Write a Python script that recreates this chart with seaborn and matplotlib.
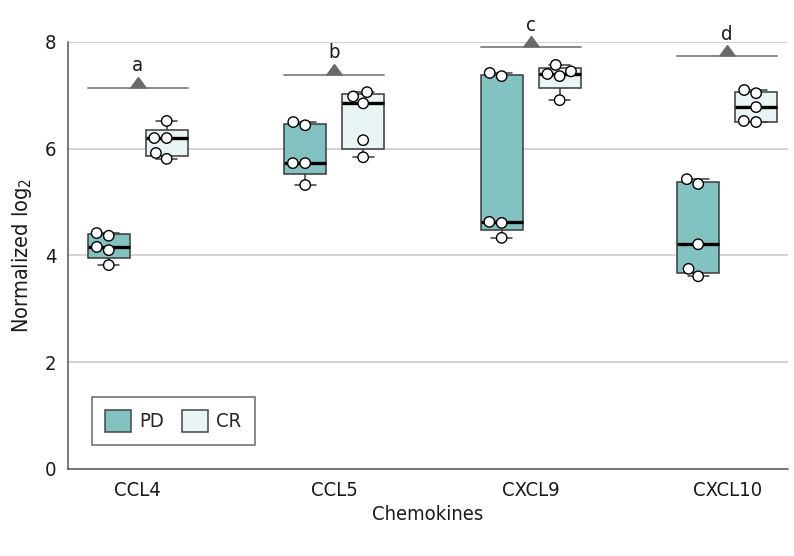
import numpy as np
import pandas as pd
import matplotlib
matplotlib.use("Agg")
import matplotlib.pyplot as plt
import matplotlib.cbook as cbook
import matplotlib.transforms as mtransforms
import seaborn as sns

# values (normalized log2 per sample)
chemokines = ["CCL4", "CCL5", "CXCL9", "CXCL10"]
groups = ["PD", "CR"]
pd_values = {
    "CCL4": [4.37, 4.42, 4.16, 4.10, 3.82],
    "CCL5": [6.44, 6.50, 5.73, 5.73, 5.32],
    "CXCL9": [7.36, 7.42, 4.63, 4.61, 4.33],
    "CXCL10": [5.34, 5.43, 4.21, 3.75, 3.61],
}
cr_values = {
    "CCL4": [6.52, 6.20, 6.20, 5.92, 5.81],
    "CCL5": [7.06, 6.98, 6.85, 6.16, 5.84],
    "CXCL9": [7.57, 7.40, 7.36, 7.45, 6.91],
    "CXCL10": [7.04, 7.10, 6.78, 6.50, 6.52],
}
sig_heights = [7.14, 7.38, 7.90, 7.73]
sig_letters = ["a", "b", "c", "d"]

rows = []
for chem in chemokines:
    for v in pd_values[chem]:
        rows.append((chem, "PD", v))
    for v in cr_values[chem]:
        rows.append((chem, "CR", v))
df = pd.DataFrame(rows, columns=["Chemokines", "Group", "Value"])

# Prism-style quartiles ((n+1)p position) instead of numpy's linear default
_orig_boxplot_stats = cbook.boxplot_stats


def prism_boxplot_stats(X, *args, **kwargs):
    out = _orig_boxplot_stats(X, *args, **kwargs)
    arrays = list(X) if isinstance(X, (list, tuple)) else [X]
    if len(arrays) != len(out):
        return out
    for st, arr in zip(out, arrays):
        x = np.asarray(arr, dtype=float).ravel()
        if x.size > 1:
            q1, q3 = np.percentile(x, [25, 75], method="weibull")
            st["q1"], st["q3"], st["iqr"] = q1, q3, q3 - q1
    return out


cbook.boxplot_stats = prism_boxplot_stats

sns.set_style("white")
plt.rcParams["font.family"] = ["DejaVu Sans"]
plt.rcParams["font.stretch"] = "condensed"

fig, ax = plt.subplots(figsize=(7.94, 5.56), dpi=100)
fig.subplots_adjust(left=0.0856, right=0.9925, bottom=0.1565, top=0.9245)

palette = {"PD": "#82C3C1", "CR": "#E8F4F5"}
sns.boxplot(data=df, x="Chemokines", y="Value", hue="Group", order=chemokines,
            hue_order=groups, palette=palette, saturation=1, width=0.59, gap=0.28,
            whis=np.inf, linecolor="#3a3a3a", linewidth=1.1,
            medianprops={"color": "black", "linewidth": 2.4},
            ax=ax, zorder=2)

n_before = len(ax.collections)
sns.swarmplot(data=df, x="Chemokines", y="Value", hue="Group", order=chemokines,
              hue_order=groups, palette={"PD": "white", "CR": "white"},
              dodge=True, size=7.5, edgecolor="black", linewidth=1,
              legend=False, ax=ax, zorder=3)

# pull the swarms in to sit over the narrower box offsets
for coll in ax.collections[n_before:]:
    off = coll.get_offsets()
    if len(off) == 0:
        continue
    x0 = off[0, 0]
    dx = 0.0525 if x0 < np.round(x0) else -0.0525
    coll.set_offset_transform(mtransforms.Affine2D().translate(dx, 0) + ax.transData)

# significance bars
for i, (h, letter) in enumerate(zip(sig_heights, sig_letters)):
    ax.plot([i - 0.255, i + 0.255], [h, h], color="#8a8a8a", lw=1.4, zorder=1,
            clip_on=False)
    ax.plot(i, h, marker=10, color="#6a6a6a", markersize=11, zorder=1, clip_on=False)
    ax.annotate(letter, (i, h), xytext=(0, 12), textcoords="offset points",
                ha="center", va="baseline", fontsize=14.5, color="#1a1a1a")

ax.set_ylim(0, 8)
ax.set_xlim(-0.355, 3.31)
ax.set_yticks([0, 2, 4, 6, 8])
ax.yaxis.grid(True, color="#d4d4d4", lw=1.4)
ax.set_axisbelow(True)
sns.despine(ax=ax)
for s in ["left", "bottom"]:
    ax.spines[s].set_color("#555555")
    ax.spines[s].set_linewidth(1.1)
ax.tick_params(axis="both", direction="out", length=5, width=1, color="#555555",
               labelsize=14.5, labelcolor="#1a1a1a")
ax.set_xlabel("Chemokines", fontsize=14.5, color="#1a1a1a")
ax.set_ylabel("Normalized log$_2$", fontsize=15.5, color="#1a1a1a", labelpad=8)

leg = ax.legend(loc="lower left", bbox_to_anchor=(0.033, 0.057), borderaxespad=0,
                ncol=2, fontsize=14.5, frameon=True, fancybox=False,
                handlelength=1.3, handleheight=1.3, columnspacing=0.9,
                handletextpad=0.4, borderpad=0.65, title=None)
leg.get_frame().set_edgecolor("#444444")
leg.get_frame().set_linewidth(1.1)
for patch in leg.get_patches():
    patch.set_edgecolor("#444444")

fig.savefig("out.png", dpi=100)
